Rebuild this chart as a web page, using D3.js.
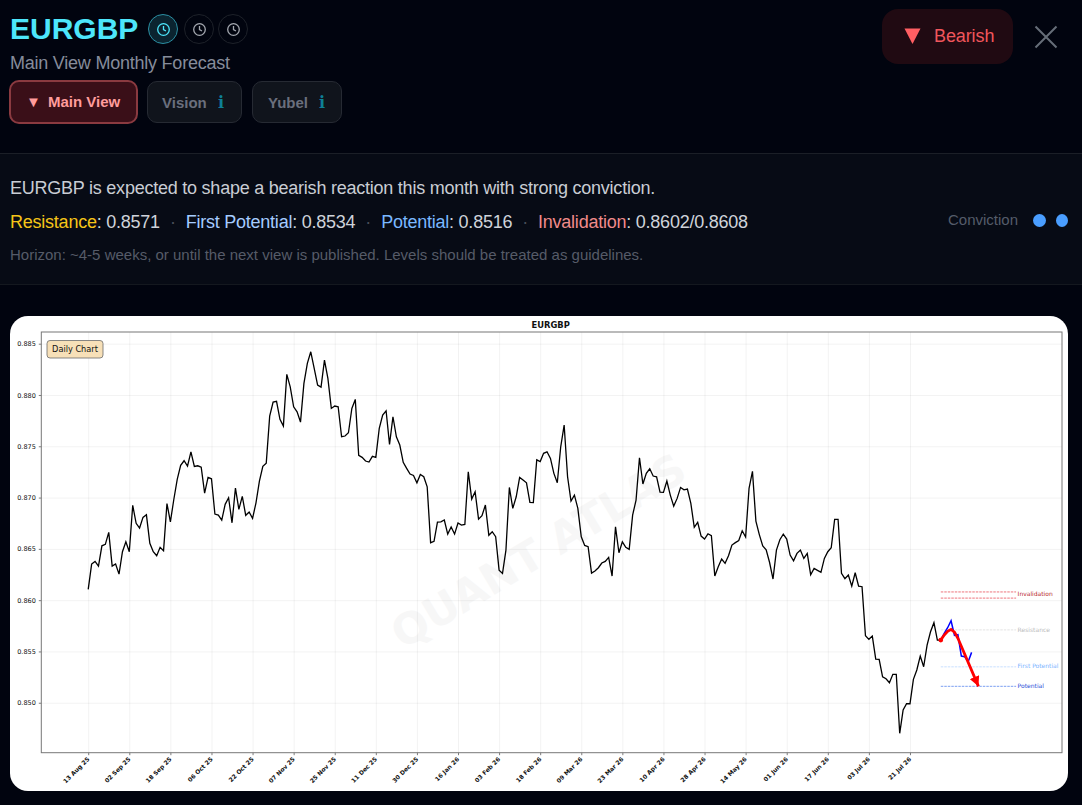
<!DOCTYPE html>
<html>
<head>
<meta charset="utf-8">
<script src="https://cdn.jsdelivr.net/npm/d3@7"></script>
<style>
  html, body { margin: 0; padding: 0; width: 1082px; height: 805px; overflow: hidden; background: #01040f; font-family: "Liberation Sans", Arial, sans-serif; }
  .abs { position: absolute; white-space: nowrap; }
  .band { position: absolute; left: 0; top: 153px; width: 1082px; height: 132px; box-sizing: border-box; background: #070b15; border-top: 1px solid #1b1f27; border-bottom: 1px solid #14181f; }
  .clock { position: absolute; top: 14px; width: 30px; height: 30px; box-sizing: border-box; border-radius: 50%; border: 1px solid #1d2129; }
  .clock.on { border-color: #2b8fa3; background: #0b2430; }
  .clock svg { position: absolute; left: 7px; top: 6.5px; }
  .tab { position: absolute; box-sizing: border-box; border-radius: 10px; font-weight: bold; font-size: 15px; background: #10141c; border: 1px solid #262a33; color: #6a6f7d; }
  .tab span { position: absolute; white-space: nowrap; top: 11.5px; }
  .tab .info { color: #0e7f96; font-family: "DejaVu Serif", serif; font-size: 16px; top: 11px; }
  #card { position: absolute; left: 10px; top: 316px; width: 1058px; height: 475px; background: #fff; border-radius: 18px; overflow: hidden; }
  #card svg { display: block; }
  #card text { font-family: "DejaVu Sans", sans-serif; }
  .grid line { stroke: #000; stroke-opacity: 0.05; }
  .grid path { display: none; }
  .axis path { display: none; }
  .axis line { stroke: #444; stroke-width: 0.7; }
</style>
</head>
<body>

<div class="abs" style="left:10px;top:11px;font-size:30px;font-weight:bold;color:#4de6fb;line-height:36px;">EURGBP</div>
<div id="clocks"></div>
<div class="abs" style="left:10px;top:52px;font-size:18px;letter-spacing:-0.23px;color:#868c9b;line-height:22px;">Main View Monthly Forecast</div>

<div class="tab" style="left:9px;top:80px;width:129px;height:44px;background:#3a0f18;border:2px solid #8a3a40;color:#ff9c9c;">
  <span style="left:15px;top:11px;font-size:15px;">▼</span><span style="left:37px;top:11px;">Main View</span>
</div>
<div class="tab" style="left:147px;top:81px;width:95px;height:42px;"><span style="left:14px;">Vision</span><span class="info" style="left:70px;">i</span></div>
<div class="tab" style="left:252px;top:81px;width:90px;height:42px;"><span style="left:15px;">Yubel</span><span class="info" style="left:66px;">i</span></div>

<div class="abs" style="left:882px;top:9px;width:131px;height:55px;background:#200a12;border-radius:16px;"></div>
<svg class="abs" style="left:903px;top:27px;" width="20" height="18"><path d="M1.5 1.5H17.5L9.5 17Z" fill="#ff5f63"/></svg>
<div class="abs" style="left:934px;top:25px;font-size:18px;letter-spacing:-0.1px;line-height:22px;color:#f0565c;">Bearish</div>
<svg class="abs" style="left:1034px;top:25px;" width="24" height="24"><path d="M1.5 1.5L22.5 22.5M22.5 1.5L1.5 22.5" stroke="#666e78" stroke-width="2" fill="none"/></svg>

<div class="band"></div>
<div class="abs" style="left:10px;top:177px;font-size:18px;letter-spacing:-0.235px;line-height:22px;color:#c9cdd4;">EURGBP is expected to shape a bearish reaction this month with strong conviction.</div>
<div class="abs" style="left:10px;top:211px;font-size:18px;letter-spacing:-0.235px;line-height:22px;color:#cfd3da;"><span style="color:#f5c518">Resistance</span>: 0.8571<span style="color:#4a4f5a;margin:0 10px;">·</span><span style="color:#a5ccff">First Potential</span>: 0.8534<span style="color:#4a4f5a;margin:0 10px;">·</span><span style="color:#7ab8ff">Potential</span>: 0.8516<span style="color:#4a4f5a;margin:0 10px;">·</span><span style="color:#f08a8a">Invalidation</span>: 0.8602/0.8608</div>
<div class="abs" style="left:10px;top:246px;font-size:15px;line-height:18px;color:#565b68;">Horizon: ~4-5 weeks, or until the next view is published. Levels should be treated as guidelines.</div>
<div class="abs" style="left:948px;top:211px;font-size:15px;line-height:18px;color:#555c6a;">Conviction</div>
<div class="abs" style="left:1033px;top:214px;width:13px;height:13px;border-radius:50%;background:#4a9eff;"></div>
<div class="abs" style="left:1056px;top:214px;width:12px;height:13px;border-radius:50%;background:#4a9eff;"></div>

<div id="card"></div>

<script>
// daily closes, one per trading day
const closes = [
  0.86105,0.86352,0.86378,0.86332,0.86530,0.86544,0.86661,0.86332,0.86352,0.86254,
  0.86472,0.86569,0.86472,0.86924,0.86749,0.86703,0.86807,0.86832,0.86554,0.86472,
  0.86433,0.86515,0.86482,0.86942,0.86764,0.86981,0.87177,0.87314,0.87359,0.87307,
  0.87446,0.87304,0.87310,0.87297,0.87044,0.87197,0.87183,0.86839,0.86829,0.86781,
  0.86934,0.86998,0.86754,0.87093,0.86885,0.87012,0.86827,0.86859,0.86797,0.86949,
  0.87161,0.87304,0.87336,0.87794,0.87931,0.87938,0.87762,0.87697,0.88201,0.88080,
  0.87885,0.87836,0.87736,0.88113,0.88308,0.88421,0.88259,0.88097,0.88077,0.88340,
  0.88162,0.87869,0.87892,0.87885,0.87593,0.87600,0.87632,0.87869,0.87957,0.87411,
  0.87392,0.87356,0.87346,0.87402,0.87392,0.87675,0.87804,0.87846,0.87519,0.87788,
  0.87593,0.87512,0.87343,0.87285,0.87229,0.87216,0.87144,0.87226,0.87203,0.87105,
  0.86560,0.86573,0.86761,0.86764,0.86781,0.86644,0.86713,0.86644,0.86752,0.86732,
  0.86739,0.87252,0.86985,0.87057,0.86790,0.86823,0.86927,0.86632,0.86667,0.86618,
  0.86293,0.86261,0.86488,0.87099,0.86895,0.87008,0.87197,0.87171,0.87144,0.86953,
  0.86951,0.87368,0.87351,0.87431,0.87446,0.87382,0.87236,0.87144,0.87495,0.87707,
  0.87203,0.86966,0.87024,0.86895,0.86618,0.86534,0.86521,0.86264,0.86284,0.86316,
  0.86362,0.86378,0.86417,0.86235,0.86715,0.86462,0.86569,0.86515,0.86495,0.86829,
  0.86976,0.87388,0.87132,0.87236,0.87281,0.87210,0.87203,0.87054,0.87051,0.87161,
  0.87024,0.86917,0.86992,0.87099,0.87076,0.87083,0.86944,0.86710,0.86758,0.86625,
  0.86596,0.86647,0.86628,0.86235,0.86326,0.86401,0.86359,0.86433,0.86537,0.86561,
  0.86581,0.86676,0.86615,0.87090,0.87255,0.86771,0.86639,0.86529,0.86491,0.86367,
  0.86206,0.86488,0.86589,0.86644,0.86596,0.86440,0.86384,0.86456,0.86488,0.86407,
  0.86456,0.86248,0.86310,0.86290,0.86271,0.86407,0.86472,0.86511,0.86788,0.86788,
  0.86261,0.86209,0.86245,0.86137,0.86267,0.86137,0.86131,0.85653,0.85618,0.85650,
  0.85426,0.85423,0.85253,0.85234,0.85195,0.85277,0.85277,0.84702,0.84929,0.84990,
  0.84990,0.85228,0.85319,0.85455,0.85351,0.85562,0.85692,0.85780,0.85611,0.85611
];

// path after the last close
const actualStart = 249;
const actualPath = [0.85611,0.85676,0.85731,0.85799,0.85657,0.85663,0.85455,0.85448,0.85400,0.85491];
const forecastDays = [249,250,251,252,253,254,260];
const forecastPath = [0.85611,0.85660,0.85696,0.85715,0.85689,0.85628,0.8516];

const levelNames = ["Invalidation","Invalidation","Resistance","First Potential","Potential"];
const levelValues = [0.8608,0.8602,0.8571,0.8535,0.8516];
const levelStart = 249, levelEnd = 271;

const tickLabels = ["13 Aug 25","02 Sep 25","18 Sep 25","06 Oct 25","22 Oct 25","07 Nov 25","25 Nov 25",
  "11 Dec 25","30 Dec 25","16 Jan 26","03 Feb 26","18 Feb 26","09 Mar 26","23 Mar 26","10 Apr 26",
  "28 Apr 26","14 May 26","01 Jun 26","17 Jun 26","03 Jul 26","21 Jul 26"];
const tickDays = tickLabels.map((d,i) => i*12);
const priceTicks = [0.850,0.855,0.860,0.865,0.870,0.875,0.880,0.885];

// header clock icons
const clockLeft = [148,183.5,218];
d3.select('#clocks').selectAll('div').data(clockLeft).join('div')
  .attr('class', (d,i) => i == 0 ? 'clock on' : 'clock')
  .style('left', d => d + 'px')
  .html((d,i) => {
    const c = i == 0 ? '#4de6fb' : '#a4a8b0';
    return `<svg width="15" height="15" viewBox="0 0 15 15" fill="none" stroke="${c}" stroke-width="1.3"><circle cx="7.5" cy="7.5" r="5.8"/><path d="M7.5 4V7.7L10 9"/></svg>`;
  });

function drawChart() {
  const width = 1058, height = 475;
  const margin = {top: 16, right: 6, bottom: 38.3, left: 31.3};

  const svg = d3.select('#card').append('svg')
    .attr('width', width)
    .attr('height', height);

  const xScale = d3.scaleLinear()
    .domain([-13.7, 284.4])
    .range([margin.left, width - margin.right]);

  const yScale = d3.scaleLinear()
    .domain([0.84513, 0.88614])
    .range([height - margin.bottom, margin.top]);

  const plotW = width - margin.left - margin.right;
  const plotH = height - margin.top - margin.bottom;

  // watermark sits under everything
  svg.append('text')
    .attr('transform', `translate(${xScale(132)},${yScale(0.8645)}) rotate(-31)`)
    .attr('text-anchor', 'middle')
    .attr('dominant-baseline', 'middle')
    .attr('font-size', 43)
    .attr('font-weight', 'bold')
    .attr('fill', '#f7f7f7')
    .text('QUANT ATLAS');

  // grid
  svg.append('g')
    .attr('class', 'grid')
    .attr('transform', `translate(0,${height - margin.bottom})`)
    .call(d3.axisBottom(xScale).tickValues(tickDays).tickSize(-plotH).tickFormat(''));
  svg.append('g')
    .attr('class', 'grid')
    .attr('transform', `translate(${margin.left},0)`)
    .call(d3.axisLeft(yScale).tickValues(priceTicks).tickSize(-plotW).tickFormat(''));

  // axes
  const xAxis = svg.append('g')
    .attr('class', 'axis')
    .attr('transform', `translate(0,${height - margin.bottom})`)
    .call(d3.axisBottom(xScale).tickValues(tickDays).tickSize(2.5).tickFormat((d,i) => tickLabels[i]));
  xAxis.selectAll('text')
    .attr('font-size', 6)
    .attr('font-weight', 'bold')
    .attr('fill', '#111')
    .attr('text-anchor', 'end')
    .attr('dx', '-0.2em')
    .attr('dy', '0.5em')
    .attr('transform', 'translate(-4,0) rotate(-45)');

  const yAxis = svg.append('g')
    .attr('class', 'axis')
    .attr('transform', `translate(${margin.left},0)`)
    .call(d3.axisLeft(yScale).tickValues(priceTicks).tickSize(2.5).tickFormat(d3.format('.3f')));
  yAxis.selectAll('text')
    .attr('font-size', 6.5)
    .attr('fill', '#111');

  // frame
  svg.append('rect')
    .attr('x', margin.left)
    .attr('y', margin.top)
    .attr('width', plotW)
    .attr('height', plotH)
    .attr('fill', 'none')
    .attr('stroke', '#777')
    .attr('stroke-width', 1);

  svg.append('text')
    .attr('x', margin.left + plotW / 2 - 1)
    .attr('y', 12)
    .attr('text-anchor', 'middle')
    .attr('font-size', 8.4)
    .attr('font-weight', 'bold')
    .attr('fill', '#111')
    .text('EURGBP');

  // levels
  const levelColors = ['#e8505a','#e8505a','#dcdcdc','#bcd8ff','#5a86ee'];
  const labelColors = ['#b82a30','#b82a30','#bbbbbb','#7db4ff','#2a4fd8'];

  svg.append('g').selectAll('line')
    .data(levelValues)
    .join('line')
    .attr('x1', xScale(levelStart))
    .attr('x2', xScale(levelEnd))
    .attr('y1', d => yScale(d))
    .attr('y2', d => yScale(d))
    .attr('stroke', (d,i) => levelColors[i])
    .attr('stroke-width', 0.8)
    .attr('stroke-dasharray', '2.5 1');

  // the two invalidation levels share one label between them
  const labelIdx = [1,2,3,4];
  svg.append('g').selectAll('text')
    .data(labelIdx)
    .join('text')
    .attr('x', xScale(levelEnd) + 1.5)
    .attr('y', d => yScale(levelValues[d]) + (d == 1 ? -3.6 : 0))
    .attr('dominant-baseline', 'middle')
    .attr('font-size', 6)
    .attr('fill', d => labelColors[d])
    .text(d => levelNames[d]);

  // price
  const line = d3.line()
    .x((d,i) => xScale(i))
    .y(d => yScale(d));

  svg.append('path')
    .attr('d', line(closes))
    .attr('fill', 'none')
    .attr('stroke', '#000')
    .attr('stroke-width', 1.3);

  const actualLine = d3.line()
    .x((d,i) => xScale(actualStart + i))
    .y(d => yScale(d));

  svg.append('path')
    .attr('d', actualLine(actualPath))
    .attr('fill', 'none')
    .attr('stroke', '#0000ff')
    .attr('stroke-width', 1.5);

  // forecast arrow
  svg.append('defs').append('marker')
    .attr('id', 'head')
    .attr('markerUnits', 'userSpaceOnUse')
    .attr('viewBox', '0 0 10 10')
    .attr('refX', 10)
    .attr('refY', 5)
    .attr('markerWidth', 10)
    .attr('markerHeight', 10)
    .attr('orient', 'auto')
    .append('path')
    .attr('d', 'M0 0L10 5L0 10Z')
    .attr('fill', '#ff0000');

  const forecastLine = d3.line()
    .x((d,i) => xScale(forecastDays[i]))
    .y(d => yScale(d));

  svg.append('path')
    .attr('d', forecastLine(forecastPath))
    .attr('fill', 'none')
    .attr('stroke', '#ff0000')
    .attr('stroke-width', 2.8)
    .attr('marker-end', 'url(#head)');

  svg.append('circle')
    .attr('cx', xScale(forecastDays[0]))
    .attr('cy', yScale(forecastPath[0]))
    .attr('r', 2.4)
    .attr('fill', '#ff0000');

  // badge
  const badge = svg.append('g');
  badge.append('rect')
    .attr('x', 37)
    .attr('y', 24.5)
    .attr('width', 56)
    .attr('height', 17.5)
    .attr('rx', 3)
    .attr('fill', '#f7e0b8')
    .attr('stroke', '#6b6b6b')
    .attr('stroke-width', 0.8);
  badge.append('text')
    .attr('x', 65)
    .attr('y', 33.5)
    .attr('text-anchor', 'middle')
    .attr('dominant-baseline', 'middle')
    .attr('font-size', 8.2)
    .attr('fill', '#111')
    .text('Daily Chart');
}

drawChart();
</script>
</body>
</html>
